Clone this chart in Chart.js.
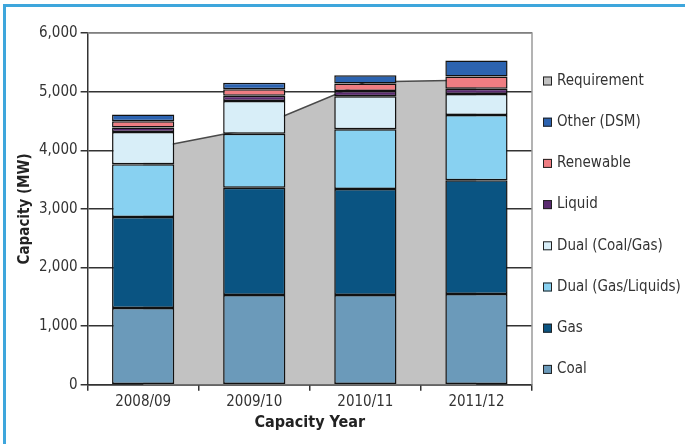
<!DOCTYPE html>
<html lang="en">
<head>
  <meta charset="UTF-8" />
  <title>Capacity vs Requirement</title>
  <script src="https://cdn.jsdelivr.net/npm/chart.js"></script>
  <style>
    body { margin: 0; background: #fff; }
    #wrap { position: relative; width: 685px; height: 444px; }
    #frame { position: absolute; left: 3px; top: 4px; width: 685px; height: 444px; border-left: 3px solid #3ea6dc; border-top: 3px solid #3ea6dc; pointer-events: none; }
  </style>
</head>
<body>
  <div id="wrap">
    <canvas id="chart" width="685" height="444"></canvas>
    <div id="frame"></div>
  </div>
  <script>
    // capacity by fuel type, MW
    const years = ['2008/09', '2009/10', '2010/11', '2011/12'];
    const coal = [1310, 1530, 1530, 1550];
    const gas = [1550, 1830, 1810, 1940];
    const dualGasLiquids = [900, 920, 1020, 1110];
    const dualCoalGas = [550, 560, 560, 360];
    const liquid = [80, 90, 90, 90];
    const renewable = [105, 110, 130, 210];
    const otherDsm = [115, 110, 140, 270];
    const requirement = [4010, 4375, 5165, 5200];

    const FONT = "'Liberation Sans Narrow', 'DejaVu Sans Condensed', 'Liberation Sans', Arial, sans-serif";
    Chart.defaults.font.family = FONT;
    Chart.defaults.color = '#333';

    const bar = (label, data, color) => ({
      type: 'bar', label, data, backgroundColor: color,
      borderColor: '#111', borderWidth: 1.5, borderSkipped: false,
      stack: 'cap', order: 0, barPercentage: 0.56, categoryPercentage: 1
    });

    // gray frame on the top and right of the plot
    const plotFrame = {
      id: 'plotFrame',
      beforeDatasetsDraw(chart) {
        const { ctx, chartArea: a } = chart;
        ctx.save();
        ctx.strokeStyle = '#9a9a9a';
        ctx.lineWidth = 1.5;
        ctx.beginPath();
        ctx.moveTo(a.left, a.top);
        ctx.lineTo(a.right, a.top);
        ctx.lineTo(a.right, a.bottom);
        ctx.stroke();
        ctx.restore();
      }
    };

    // legend to the right of the plot, top item is the last dataset
    const sideLegend = {
      id: 'sideLegend',
      afterDraw(chart) {
        const { ctx, chartArea: a } = chart;
        const items = chart.data.datasets.slice().reverse();
        ctx.save();
        ctx.font = '15px ' + FONT;
        ctx.textBaseline = 'middle';
        items.forEach((ds, i) => {
          const y = a.top + 48 + i * 41.2;
          const x = a.right + 11;
          ctx.fillStyle = ds.backgroundColor;
          ctx.fillRect(x, y - 4.5, 9, 9);
          ctx.strokeStyle = '#222';
          ctx.lineWidth = 1;
          ctx.strokeRect(x + 0.5, y - 4, 8, 8);
          ctx.fillStyle = '#333';
          ctx.fillText(ds.label, x + 14, y);
        });
        ctx.restore();
      }
    };

    new Chart(document.getElementById('chart').getContext('2d'), {
      data: {
        labels: years,
        datasets: [
          bar('Coal', coal, '#6b9aba'),
          bar('Gas', gas, '#0a5482'),
          bar('Dual (Gas/Liquids)', dualGasLiquids, '#88d1f1'),
          bar('Dual (Coal/Gas)', dualCoalGas, '#d8eef8'),
          bar('Liquid', liquid, '#5a2a70'),
          bar('Renewable', renewable, '#ef7d82'),
          bar('Other (DSM)', otherDsm, '#2c63b0'),
          {
            type: 'line', label: 'Requirement', data: requirement,
            backgroundColor: '#c2c2c2', borderColor: '#4a4a4a', borderWidth: 1.5,
            fill: 'origin', pointRadius: 0, tension: 0, stack: 'req', order: 1
          }
        ]
      },
      options: {
        responsive: false,
        animation: false,
        layout: { padding: { left: 14, top: 33, right: 153, bottom: 12 } },
        plugins: {
          tooltip: { enabled: false },
          legend: { display: false }
        },
        scales: {
          x: {
            stacked: true,
            grid: { drawOnChartArea: false, tickLength: 6, color: '#333', lineWidth: 1.5 },
            border: { color: '#333', width: 1.5 },
            ticks: { font: { size: 15 }, color: '#333', padding: 2 },
            title: { display: true, text: 'Capacity Year', font: { size: 16, weight: 'bold' }, color: '#222', padding: 0 }
          },
          y: {
            stacked: true,
            min: 0, max: 6000,
            grid: { color: '#333', lineWidth: 1.5, tickLength: 7 },
            border: { color: '#333', width: 1.5 },
            ticks: { stepSize: 1000, font: { size: 15 }, color: '#333', padding: 3 },
            title: { display: true, text: 'Capacity (MW)', font: { size: 15, weight: 'bold' }, color: '#222', padding: 2 }
          }
        }
      },
      plugins: [plotFrame, sideLegend]
    });
  </script>
</body>
</html>
